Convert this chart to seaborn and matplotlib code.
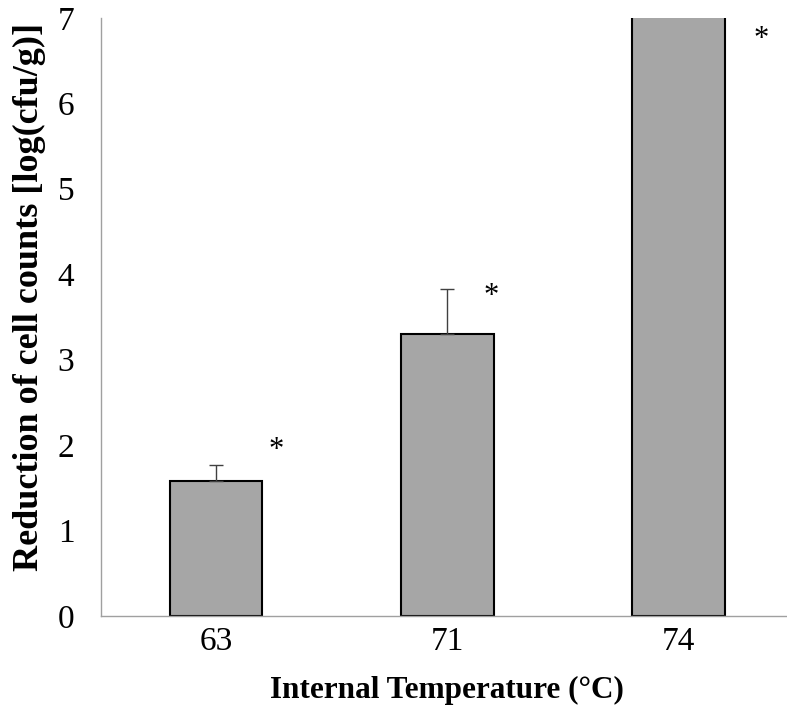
import matplotlib
matplotlib.use("Agg")
import matplotlib.pyplot as plt
import seaborn as sns
import pandas as pd

temps = ["63", "71", "74"]
reduction = [1.58, 3.30, 7.6]
err_up = [0.19, 0.53, 0.0]
star_x = [0.26, 0.19, 0.36]
star_y = [1.93, 3.74, 6.75]

sns.set_theme(style="white")
plt.rcParams['font.family'] = ['Liberation Serif', 'DejaVu Serif']
plt.rcParams['text.color'] = 'black'
plt.rcParams['axes.labelcolor'] = 'black'
plt.rcParams['xtick.color'] = 'black'
plt.rcParams['ytick.color'] = 'black'

df = pd.DataFrame({"Temperature": temps, "Reduction": reduction})

fig = plt.figure(figsize=(7.87, 7.12), dpi=100)
ax = fig.add_axes([0.128, 0.135, 0.872, 0.84])

sns.barplot(data=df, x="Temperature", y="Reduction", order=temps,
            color="#A6A6A6", saturation=1, edgecolor="black", linewidth=1.5,
            width=0.4, errorbar=None, ax=ax)

xs = list(range(len(temps)))
ax.errorbar(xs[:2], reduction[:2], yerr=[[0, 0], err_up[:2]], fmt="none",
            ecolor="#404040", elinewidth=1.0, capsize=5, capthick=1.0, zorder=1)

for i in range(len(temps)):
    ax.text(xs[i] + star_x[i], star_y[i], "*", fontsize=22, ha="center",
            va="center", color="black")

ax.set_ylim(0, 7)
ax.set_xlim(-0.5, 2.47)
ax.set_yticks(range(0, 8))
ax.set_xlabel("Internal Temperature (°C)", fontsize=22.5, fontweight="bold")
ax.set_ylabel("Reduction of cell counts [log(cfu/g)]", fontsize=26, fontweight="bold")
ax.xaxis.set_label_coords(0.505, -0.100)
ax.yaxis.set_label_coords(-0.080, 0.533)
ax.tick_params(axis="y", labelsize=24, pad=19, length=0)
ax.tick_params(axis="x", labelsize=24, pad=8, length=0)

for s in ["top", "right"]:
    ax.spines[s].set_visible(False)
for s in ["left", "bottom"]:
    ax.spines[s].set_color("#A0A0A0")
    ax.spines[s].set_linewidth(1.0)

fig.savefig("out.png", dpi=100)
